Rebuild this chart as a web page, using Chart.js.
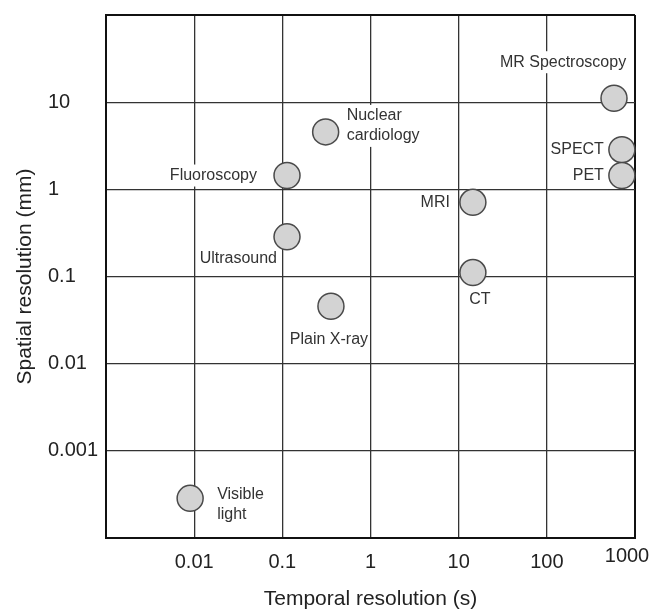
<!DOCTYPE html>
<html>
<head>
<meta charset="utf-8">
<script src="https://cdn.jsdelivr.net/npm/chart.js@4.4.1/dist/chart.umd.min.js"></script>
<style>
  html, body { margin: 0; padding: 0; background: #fff; }
  #wrap { width: 653px; height: 612px; position: relative; }
</style>
</head>
<body>
<div id="wrap"><canvas id="resChart"></canvas></div>
<script>
// imaging modalities: temporal resolution (s) vs spatial resolution (mm)
const modalities = ['MR Spectroscopy', 'SPECT', 'PET', 'Nuclear cardiology', 'Fluoroscopy', 'MRI', 'Ultrasound', 'CT', 'Plain X-ray', 'Visible light'];
const temporalRes = [578, 710, 710, 0.31, 0.113, 14.5, 0.113, 14.5, 0.356, 0.009];
const spatialRes = [11.1, 2.85, 1.44, 4.56, 1.44, 0.71, 0.285, 0.111, 0.0456, 0.000285];
const xTicks = [0.001, 0.01, 0.1, 1, 10, 100, 1000];
const xTickLabels = ['', '0.01', '0.1', '1', '10', '100', '1000'];
const yTicks = [0.0001, 0.001, 0.01, 0.1, 1, 10, 100];
const yTickLabels = ['', '0.001', '0.01', '0.1', '1', '10', ''];

// where each annotation sits relative to its circle
const labelPlacement = {
    'MR Spectroscopy': { dx: -51, dy: -36, align: 'center' },
    'SPECT': { dx: -18, dy: 0, align: 'right' },
    'PET': { dx: -18, dy: 0, align: 'right' },
    'Nuclear cardiology': { dx: 21, dy: -16, align: 'left', wrap: true },
    'Fluoroscopy': { dx: -30, dy: 0, align: 'right' },
    'MRI': { dx: -23, dy: 0, align: 'right' },
    'Ultrasound': { dx: -10, dy: 22, align: 'right' },
    'CT': { dx: 7, dy: 27, align: 'center' },
    'Plain X-ray': { dx: -2, dy: 33, align: 'center' },
    'Visible light': { dx: 27, dy: -4, align: 'left', wrap: true }
};

const FONT = "'Liberation Sans', Arial, sans-serif";
Chart.defaults.font.family = FONT;

const isEdge = (list, v) => v === list[0] || v === list[list.length - 1];

const pointLabels = {
    id: 'pointLabels',
    beforeDatasetsDraw(chart) {
        const ctx = chart.ctx;
        const meta = chart.getDatasetMeta(0);
        ctx.save();
        ctx.font = '16px ' + FONT;
        ctx.textBaseline = 'middle';
        const items = [];
        meta.data.forEach((pt, i) => {
            const name = modalities[i];
            const p = labelPlacement[name];
            const lines = p.wrap ? name.split(' ') : [name];
            lines.forEach((line, k) => {
                const x = pt.x + p.dx;
                const y = pt.y + p.dy + k * 20;
                const w = ctx.measureText(line).width;
                const left = p.align === 'right' ? x - w : (p.align === 'center' ? x - w / 2 : x);
                items.push({ line, x, y, w, left, align: p.align });
            });
        });
        // white boxes first so they break the grid, then the text
        ctx.fillStyle = '#fff';
        items.forEach(it => ctx.fillRect(it.left - 1, it.y - 11, it.w + 2, 22));
        ctx.fillStyle = '#333';
        items.forEach(it => {
            ctx.textAlign = it.align;
            ctx.fillText(it.line, it.x, it.y);
        });
        ctx.restore();
    },
    afterDraw(chart) {
        // last x tick label sits a bit inside and higher than the others
        const ctx = chart.ctx;
        const xs = chart.scales.x;
        const last = xTicks.length - 1;
        ctx.save();
        ctx.font = '20px ' + FONT;
        ctx.fillStyle = '#222';
        ctx.textAlign = 'center';
        ctx.textBaseline = 'middle';
        ctx.fillText(xTickLabels[last], xs.getPixelForValue(xTicks[last]) - 8, xs.top + 18);
        ctx.restore();
    }
};

new Chart(document.getElementById('resChart'), {
    type: 'scatter',
    data: {
        datasets: [{
            data: temporalRes.map((t, i) => ({ x: t, y: spatialRes[i] })),
            pointRadius: 13,
            pointHoverRadius: 13,
            backgroundColor: '#d3d3d3',
            borderColor: '#4a4a4a',
            borderWidth: 1.5,
            clip: false
        }]
    },
    options: {
        responsive: true,
        maintainAspectRatio: false,
        animation: false,
        layout: { padding: { top: 11, right: 18, bottom: 0, left: 0 } },
        plugins: {
            legend: { display: false },
            tooltip: { enabled: false }
        },
        scales: {
            x: {
                type: 'logarithmic',
                min: xTicks[0],
                max: xTicks[xTicks.length - 1],
                afterBuildTicks: scale => { scale.ticks = xTicks.map(v => ({ value: v })); },
                afterFit: scale => { scale.height = 74; },
                grid: {
                    drawTicks: false,
                    color: c => (c.tick && isEdge(xTicks, c.tick.value)) ? '#111' : '#333',
                    lineWidth: c => (c.tick && isEdge(xTicks, c.tick.value)) ? 2 : 1.3
                },
                border: { display: true, color: '#111', width: 2 },
                ticks: {
                    autoSkip: false,
                    maxRotation: 0,
                    padding: 12,
                    color: '#222',
                    font: { size: 20 },
                    callback: (v, i) => i === xTicks.length - 1 ? '' : xTickLabels[i]
                },
                title: {
                    display: true,
                    text: 'Temporal resolution (s)',
                    color: '#222',
                    font: { size: 21 },
                    padding: { top: 0, bottom: 0 }
                }
            },
            y: {
                type: 'logarithmic',
                min: yTicks[0],
                max: yTicks[yTicks.length - 1],
                weight: 0,
                afterBuildTicks: scale => { scale.ticks = yTicks.map(v => ({ value: v })); },
                afterFit: scale => { scale.width = 58; },
                grid: {
                    drawTicks: false,
                    color: c => (c.tick && isEdge(yTicks, c.tick.value)) ? '#111' : '#333',
                    lineWidth: c => (c.tick && isEdge(yTicks, c.tick.value)) ? 2 : 1.3
                },
                border: { display: true, color: '#111', width: 2 },
                ticks: {
                    autoSkip: false,
                    crossAlign: 'far',
                    color: '#222',
                    font: { size: 20 },
                    callback: (v, i) => yTickLabels[i]
                }
            },
            // outer left box that only carries the y title
            yTitle: {
                type: 'linear',
                axis: 'y',
                position: 'left',
                weight: 1,
                afterFit: scale => { scale.width = 48; },
                grid: { display: false },
                border: { display: false },
                ticks: { display: false },
                title: {
                    display: true,
                    text: 'Spatial resolution (mm)',
                    color: '#222',
                    font: { size: 21 },
                    padding: { top: 13, bottom: 0 }
                }
            }
        }
    },
    plugins: [pointLabels]
});
</script>
</body>
</html>
